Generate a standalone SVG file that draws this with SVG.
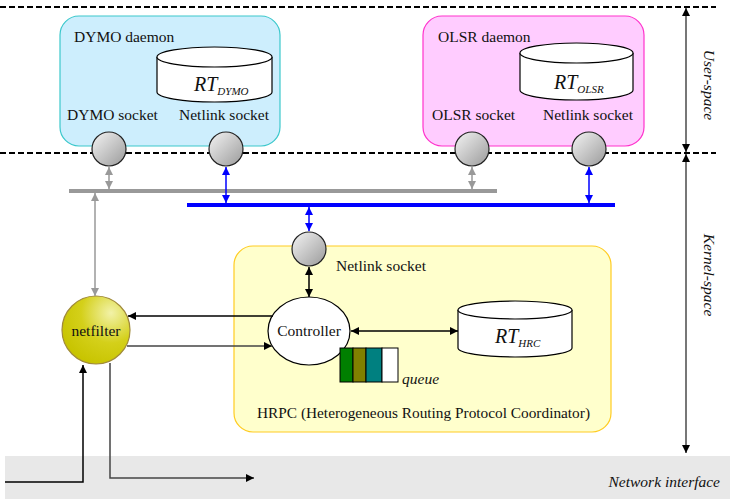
<svg xmlns="http://www.w3.org/2000/svg" width="730" height="499" viewBox="0 0 730 499" font-family="'Liberation Serif', 'Times New Roman', 'DejaVu Serif', serif">
  <style>
    text { font-family: 'Liberation Serif', 'Times New Roman', 'DejaVu Serif', serif; fill: #111; }
    .lbl { font-size: 15.5px; }
    .it { font-style: italic; }
    .rt { font-size: 20px; font-style: italic; }
    .sub { font-size: 11px; font-style: italic; }
    .dash { stroke: #000; stroke-width: 2; stroke-dasharray: 6 3; fill: none; }
    .sock { fill: url(#sockGrad); stroke: #222; stroke-width: 1.2; }
    .cyl { fill: #fff; stroke: #000; stroke-width: 1.2; }
    .k { stroke: #000; stroke-width: 1.5; fill: none; }
    .g { stroke: #999; stroke-width: 1.5; fill: none; }
    .b { stroke: #0000ff; stroke-width: 1.5; fill: none; }
    .d { stroke: #444; stroke-width: 1.5; fill: none; }
  </style>
  <defs>
    <linearGradient id="sockGrad" x1="0" y1="0" x2="1" y2="1">
      <stop offset="0" stop-color="#f4f4f4"/>
      <stop offset="1" stop-color="#9a9a9a"/>
    </linearGradient>
    <radialGradient id="nfGrad" cx="0.72" cy="0.25" r="0.8">
      <stop offset="0" stop-color="#f2f2a8"/>
      <stop offset="0.55" stop-color="#d4d01a"/>
      <stop offset="1" stop-color="#c8c400"/>
    </radialGradient>
    <marker id="ak" viewBox="0 0 10 10" refX="10" refY="5" markerWidth="9" markerHeight="8" markerUnits="userSpaceOnUse" orient="auto-start-reverse">
      <path d="M0,0 L10,5 L0,10 z" fill="#000"/>
    </marker>
    <marker id="ag" viewBox="0 0 10 10" refX="10" refY="5" markerWidth="9" markerHeight="8" markerUnits="userSpaceOnUse" orient="auto-start-reverse">
      <path d="M0,0 L10,5 L0,10 z" fill="#999"/>
    </marker>
    <marker id="ab" viewBox="0 0 10 10" refX="10" refY="5" markerWidth="9" markerHeight="8" markerUnits="userSpaceOnUse" orient="auto-start-reverse">
      <path d="M0,0 L10,5 L0,10 z" fill="#0000ff"/>
    </marker>
  </defs>

  <!-- network interface band -->
  <g id="network-interface">
    <rect x="5" y="456" width="725" height="43" fill="#e8e8e8"/>
    <text x="720" y="487" class="lbl it" text-anchor="end">Network interface</text>
  </g>

  <!-- space boundaries -->
  <g id="space-boundaries">
    <line x1="0" y1="7" x2="716" y2="7" class="dash"/>
    <line x1="0" y1="153" x2="716" y2="153" class="dash"/>
    <text class="lbl it" transform="translate(704,85) rotate(90)" text-anchor="middle">User-space</text>
    <text class="lbl it" transform="translate(704,275) rotate(90)" text-anchor="middle">Kernel-space</text>
  </g>

  <!-- DYMO daemon -->
  <g id="dymo-daemon">
    <rect x="60" y="16" width="220" height="130" rx="19" fill="#cdeefd" stroke="#3cc8cc" stroke-width="1.2"/>
    <text x="74" y="42" class="lbl">DYMO daemon</text>
    <path d="M157,57 V92 A57.5,10 0 0 0 272,92 V57" class="cyl"/>
    <ellipse cx="214.5" cy="57" rx="57.5" ry="10" class="cyl"/>
    <text x="194" y="91"><tspan class="rt">RT</tspan><tspan class="sub" dy="4">DYMO</tspan></text>
    <text x="67" y="120" class="lbl">DYMO socket</text>
    <text x="179" y="120" class="lbl">Netlink socket</text>
  </g>

  <!-- OLSR daemon -->
  <g id="olsr-daemon">
    <rect x="423" y="16" width="221" height="130" rx="19" fill="#ffccff" stroke="#ff33cc" stroke-width="1.2"/>
    <text x="438" y="42" class="lbl">OLSR daemon</text>
    <path d="M520,53 V90 A56.5,10 0 0 0 633,90 V53" class="cyl"/>
    <ellipse cx="576.5" cy="53" rx="56.5" ry="10" class="cyl"/>
    <text x="554" y="89"><tspan class="rt">RT</tspan><tspan class="sub" dy="4">OLSR</tspan></text>
    <text x="432" y="120" class="lbl">OLSR socket</text>
    <text x="543" y="120" class="lbl">Netlink socket</text>
  </g>

  <!-- user-space sockets -->
  <g id="dymo-socket"><circle cx="109" cy="149" r="17" class="sock"/></g>
  <g id="dymo-netlink-socket"><circle cx="226" cy="149" r="17" class="sock"/></g>
  <g id="olsr-socket"><circle cx="472" cy="149" r="17" class="sock"/></g>
  <g id="olsr-netlink-socket"><circle cx="589" cy="149" r="17" class="sock"/></g>

  <!-- kernel buses -->
  <g id="socket-bus">
    <line x1="69" y1="191" x2="497" y2="191" stroke="#999" stroke-width="4"/>
  </g>
  <g id="netlink-bus">
    <line x1="187" y1="205" x2="615" y2="205" stroke="#0000ff" stroke-width="4"/>
  </g>

  <!-- HRPC -->
  <g id="hrpc">
    <rect x="234" y="246" width="377" height="186" rx="19" fill="#ffffcc" stroke="#ffcc22" stroke-width="1.2"/>
    <text x="336" y="271" class="lbl">Netlink socket</text>
    <text x="257" y="418" class="lbl" textLength="333" lengthAdjust="spacingAndGlyphs">HRPC (Heterogeneous Routing Protocol Coordinator)</text>
  </g>
  <g id="hrpc-netlink-socket"><circle cx="309" cy="249" r="17" class="sock"/></g>
  <g id="controller">
    <ellipse cx="309" cy="331" rx="41" ry="34" fill="#fff" stroke="#000" stroke-width="1.2"/>
    <text x="309" y="336" class="lbl" text-anchor="middle">Controller</text>
  </g>
  <g id="rt-hrc">
    <path d="M458,310 V348 A57,9 0 0 0 572,348 V310" class="cyl"/>
    <ellipse cx="515" cy="310" rx="57" ry="9" class="cyl"/>
    <text x="495" y="343"><tspan class="rt">RT</tspan><tspan class="sub" dy="4">HRC</tspan></text>
  </g>
  <g id="queue">
    <rect x="340" y="348" width="13" height="34" fill="#007f00" stroke="#000" stroke-width="1"/>
    <rect x="353" y="348" width="13" height="34" fill="#808000" stroke="#000" stroke-width="1"/>
    <rect x="366" y="348" width="16" height="34" fill="#008080" stroke="#000" stroke-width="1"/>
    <rect x="382" y="348" width="16" height="34" fill="#fff" stroke="#000" stroke-width="1"/>
    <text x="402" y="384" class="lbl it">queue</text>
  </g>

  <!-- netfilter -->
  <g id="netfilter">
    <circle cx="96" cy="330" r="34" fill="url(#nfGrad)" stroke="#a08a3a" stroke-width="1.2"/>
    <text x="96" y="336" class="lbl" text-anchor="middle">netfilter</text>
  </g>

  <!-- connectors -->
  <g id="connectors">
    <!-- space extents -->
    <line x1="686" y1="8" x2="686" y2="152" stroke="#777" stroke-width="2" marker-start="url(#ak)" marker-end="url(#ak)"/>
    <line x1="686" y1="154" x2="686" y2="453" stroke="#777" stroke-width="2" marker-start="url(#ak)" marker-end="url(#ak)"/>
    <!-- sockets to buses -->
    <line x1="109" y1="167" x2="109" y2="189" class="g" marker-start="url(#ag)" marker-end="url(#ag)"/>
    <line x1="472" y1="167" x2="472" y2="189" class="g" marker-start="url(#ag)" marker-end="url(#ag)"/>
    <line x1="226" y1="167" x2="226" y2="203" class="b" marker-start="url(#ab)" marker-end="url(#ab)"/>
    <line x1="589" y1="167" x2="589" y2="203" class="b" marker-start="url(#ab)" marker-end="url(#ab)"/>
    <line x1="309" y1="207" x2="309" y2="231" class="b" marker-start="url(#ab)" marker-end="url(#ab)"/>
    <!-- bus to netfilter -->
    <line x1="95" y1="193" x2="95" y2="296" class="g" marker-start="url(#ag)" marker-end="url(#ag)"/>
    <!-- HRPC internals -->
    <line x1="309" y1="267" x2="309" y2="297" class="k" marker-start="url(#ak)" marker-end="url(#ak)"/>
    <line x1="351" y1="331" x2="458" y2="331" class="k" marker-start="url(#ak)" marker-end="url(#ak)"/>
    <!-- controller and netfilter -->
    <line x1="273" y1="316" x2="128" y2="316" class="k" marker-end="url(#ak)"/>
    <line x1="127" y1="346" x2="272" y2="346" class="d" marker-end="url(#ak)"/>
    <!-- network interface and netfilter -->
    <polyline points="5,482 83,482 83,365" class="k" marker-end="url(#ak)"/>
    <polyline points="110,363 110,478 254,478" class="d" marker-end="url(#ak)"/>
  </g>
</svg>
